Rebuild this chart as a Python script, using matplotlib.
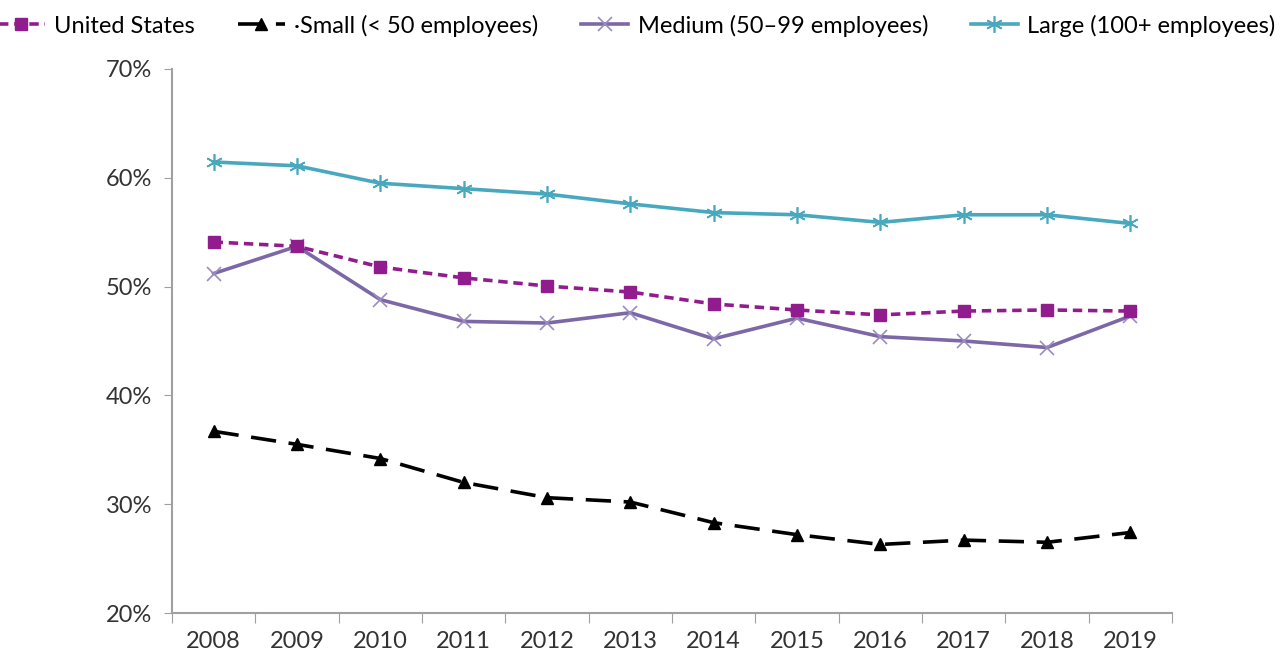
import matplotlib.pyplot as plt
import numpy as np

plt.rcParams.update({'font.family': ['Lato', 'DejaVu Sans'], 'font.size': 17})

# data (percent)
years = ['2008', '2009', '2010', '2011', '2012', '2013', '2014', '2015', '2016', '2017', '2018', '2019']
us = [54.1, 53.7, 51.8, 50.8, 50.05, 49.5, 48.4, 47.85, 47.4, 47.75, 47.85, 47.75]
small = [36.7, 35.5, 34.2, 32.0, 30.6, 30.2, 28.3, 27.2, 26.3, 26.7, 26.5, 27.4]
medium = [51.2, 53.7, 48.8, 46.8, 46.65, 47.6, 45.2, 47.1, 45.4, 45.0, 44.4, 47.3]
large = [61.45, 61.1, 59.5, 59.0, 58.5, 57.6, 56.8, 56.6, 55.9, 56.6, 56.6, 55.8]
y_ticks = [20, 30, 40, 50, 60, 70]

x = np.arange(len(years))

fig = plt.figure(figsize=(12.86, 6.6), dpi=100)
ax = fig.add_axes([0.1337, 0.0712, 0.7777, 0.8243])

c_us = '#911C8E'
c_med = '#7C68A6'
c_large = '#48A9BE'

ax.plot(x, us, color=c_us, lw=2.6, dashes=(2.6, 1.6), marker='s', ms=9,
        label='United States', zorder=4)
ax.plot(x, small, color='black', lw=2.6, dashes=(7, 3.5), marker='^', ms=9,
        label='\u00b7Small (< 50 employees)', zorder=3)
ax.plot(x, medium, color=c_med, lw=2.6, marker='x', ms=10, mew=1.2,
        mec='#9A8CC0', label='Medium (50\u201399 employees)', zorder=3)
ax.plot(x, large, color=c_large, lw=2.6, marker=(6, 2, 0), ms=12, mew=1.2,
        label='Large (100+ employees)', zorder=3)

ax.set_xlim(-0.5, len(years) - 0.5)
ax.set_ylim(20, 70)
ax.set_yticks(y_ticks)
ax.set_yticklabels([f'{v}%' for v in y_ticks])

# category boundaries as ticks, labels centred
ax.set_xticks(np.arange(-0.5, len(years), 1.0))
ax.set_xticklabels([])
ax.set_xticks(x, minor=True)
ax.set_xticklabels(years, minor=True)
ax.tick_params(axis='x', which='major', length=7, color='#A0A0A0', direction='out')
ax.tick_params(axis='x', which='minor', length=0, pad=13, labelcolor='#333333')
ax.tick_params(axis='y', length=6, color='#A0A0A0', pad=8, labelcolor='#333333')

for s in ['top', 'right']:
    ax.spines[s].set_visible(False)
for s in ['left', 'bottom']:
    ax.spines[s].set_color('#A0A0A0')
    ax.spines[s].set_linewidth(1.5)

fig.legend(loc='upper center', bbox_to_anchor=(0.495, 1.01), ncol=4, frameon=False,
           fontsize=17, handlelength=2.0, columnspacing=1.8, handletextpad=0.4)

plt.savefig('out.png', dpi=100)
